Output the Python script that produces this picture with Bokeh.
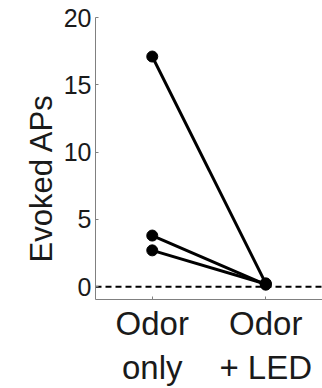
from bokeh.plotting import figure
from bokeh.models import FixedTicker, Range1d, Title
from bokeh.embed import file_html
from bokeh.resources import INLINE

conditions = [1, 2]
tick_labels = {1: "Odor\nonly", 2: "Odor\n+ LED"}
odor_only = [17.1, 3.8, 2.7]
odor_led = [0.25, 0.15, 0.2]
y_ticks = [0, 5, 10, 15, 20]
y_title = "Evoked APs"

p = figure(width=322, height=388, output_backend="svg", toolbar_location=None,
           x_range=Range1d(0.5, 2.5), y_range=Range1d(-0.95, 20),
           min_border_left=95, min_border_right=0, min_border_top=17, min_border_bottom=87)
p.outline_line_color = None
p.grid.visible = False
p.background_fill_color = "white"

# dashed zero line
p.line(x=[0.5, 2.5], y=[0, 0], line_color="black", line_width=2, line_dash="6 4")

for a, b in zip(odor_only, odor_led):
    p.line(x=conditions, y=[a, b], line_color="black", line_width=3)
    p.scatter(x=conditions, y=[a, b], size=11, fill_color="black", line_color="black")

for ax in (p.xaxis[0], p.yaxis[0]):
    ax.axis_line_color = "#808080"
    ax.major_tick_line_color = "#808080"
    ax.major_tick_in = 3
    ax.major_tick_out = 0
    ax.minor_tick_line_color = None
    ax.major_label_text_font = "Liberation Sans"
    ax.major_label_text_color = "#1a1a1a"

p.yaxis.ticker = FixedTicker(ticks=y_ticks)
p.yaxis.major_label_text_font_size = "25px"
p.yaxis.major_label_standoff = 4

# y-axis title as a left-side title, anchored at the bottom and lifted
p.add_layout(Title(text=y_title, align="left", offset=37, standoff=4,
                   text_font="Liberation Sans", text_font_size="31px",
                   text_font_style="normal", text_color="#1a1a1a"), "left")

p.xaxis.ticker = FixedTicker(ticks=conditions)
p.xaxis.major_label_overrides = tick_labels
p.xaxis.major_label_text_font_size = "33px"
p.xaxis.major_label_standoff = 5

open("out.html", "w").write(file_html(p, INLINE))
